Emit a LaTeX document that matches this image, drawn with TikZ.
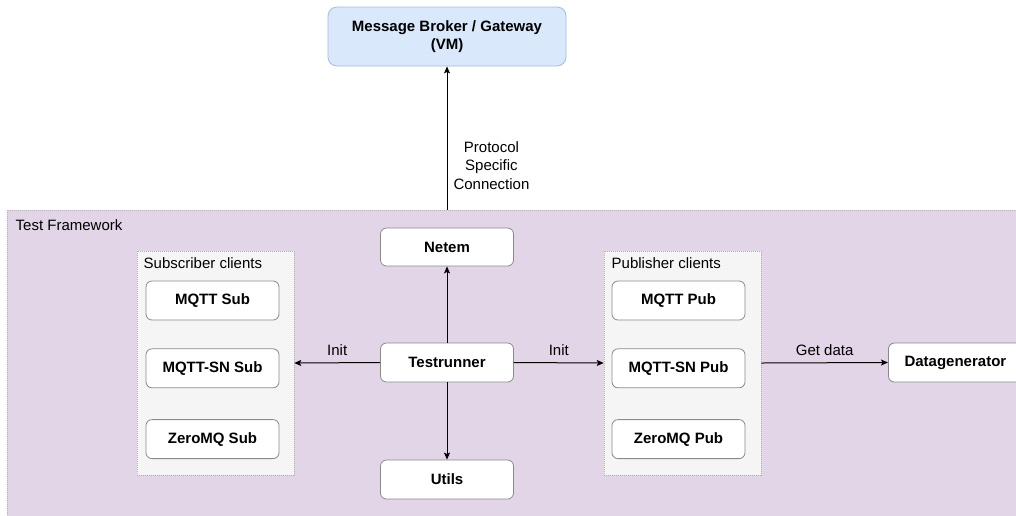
\documentclass[tikz,border=0pt]{standalone}
\usepackage{fontspec}
\setmainfont{Liberation Sans}
\usetikzlibrary{positioning,arrows.meta}
\definecolor{brokerfill}{HTML}{DAE8FC}
\definecolor{brokerline}{HTML}{A3BBDD}
\definecolor{framefill}{HTML}{E1D5E7}
\definecolor{frameline}{HTML}{B8B0BC}
\definecolor{groupfill}{HTML}{F5F5F5}
\definecolor{groupline}{HTML}{B0B0B0}
\definecolor{boxline}{HTML}{8A8A8A}
\tikzset{
    txt/.style = {font = \fontsize{15}{18.5}\selectfont},
    box/.style = {rectangle, rounded corners = 6pt, draw = boxline, fill = white, line width = 0.8pt,
        minimum width = 133pt, minimum height = 39pt, align = center,
        font = \fontsize{15}{18.5}\selectfont\bfseries},
    broker/.style = {box, draw = brokerline, fill = brokerfill, rounded corners = 9pt,
        minimum width = 238pt, minimum height = 59pt},
    frame/.style = {rectangle, draw = frameline, fill = framefill, line width = 0.6pt,
        dash pattern = on 1pt off 1pt, minimum width = 1023pt, minimum height = 320pt},
    group/.style = {rectangle, draw = groupline, fill = groupfill, line width = 0.6pt,
        dash pattern = on 1pt off 1pt, minimum width = 157pt, minimum height = 224pt},
    caption/.style = {txt, inner sep = 0pt, anchor = base west},
    link/.style = {-{Stealth[length = 7pt, width = 6pt, inset = 1.5pt]}, line width = 1pt},
    linklabel/.style = {txt, inner sep = 0pt, align = center}
}

\begin{document}
\begin{tikzpicture}[x = 1pt, y = -1pt]
    \useasboundingbox (0, 0) rectangle (1016, 515);

    \node [frame] (frame) at (518.5, 370) {};
    \node [caption] (framecap) at (15.5, 230) {Test Framework};

    \node [broker] (broker) at (447, 36.5) {Message Broker / Gateway\\(VM)};

    \node [group] (subgrp) at (215.5, 363) {};
    \node [caption] (subcap) at (143.5, 268) {Subscriber clients};
    \node [box] (mqttsub) at (212.5, 300.5) {MQTT Sub};
    \node [box, below = 28pt of mqttsub] (snsub) {MQTT-SN Sub};
    \node [box, below = 31pt of snsub] (zmqsub) {ZeroMQ Sub};

    \node [group] (pubgrp) at (682.5, 363) {};
    \node [caption] (pubcap) at (611.5, 268) {Publisher clients};
    \node [box] (mqttpub) at (678.5, 300.5) {MQTT Pub};
    \node [box, below = 28pt of mqttpub] (snpub) {MQTT-SN Pub};
    \node [box, below = 31pt of snpub] (zmqpub) {ZeroMQ Pub};

    \node [box, minimum height = 38pt] (netem) at (447, 247) {Netem};
    \node [box] (runner) at (447, 362.5) {Testrunner};
    \node [box] (utils) at (447, 479.5) {Utils};
    \node [box, minimum width = 134pt, anchor = west] (datagen) at (888, 362.5) {Datagenerator};

    \draw [link] (frame.north -| broker.south) -- (broker.south)
        node [linklabel, pos = 0.31, right = 6pt] {Protocol\\Specific\\Connection};
    \draw [link] (runner.north) -- (netem.south);
    \draw [link] (runner.south) -- (utils.north);
    \draw [link] (runner.west) -- (subgrp.east)
        node [linklabel, midway, anchor = base, yshift = 7.5pt] {Init};
    \draw [link] (runner.east) -- (pubgrp.west)
        node [linklabel, midway, anchor = base, yshift = 7.5pt] {Init};
    \draw [link] (pubgrp.east) -- (datagen.west)
        node [linklabel, midway, anchor = base, yshift = 7.5pt] {Get data};
\end{tikzpicture}
\end{document}
